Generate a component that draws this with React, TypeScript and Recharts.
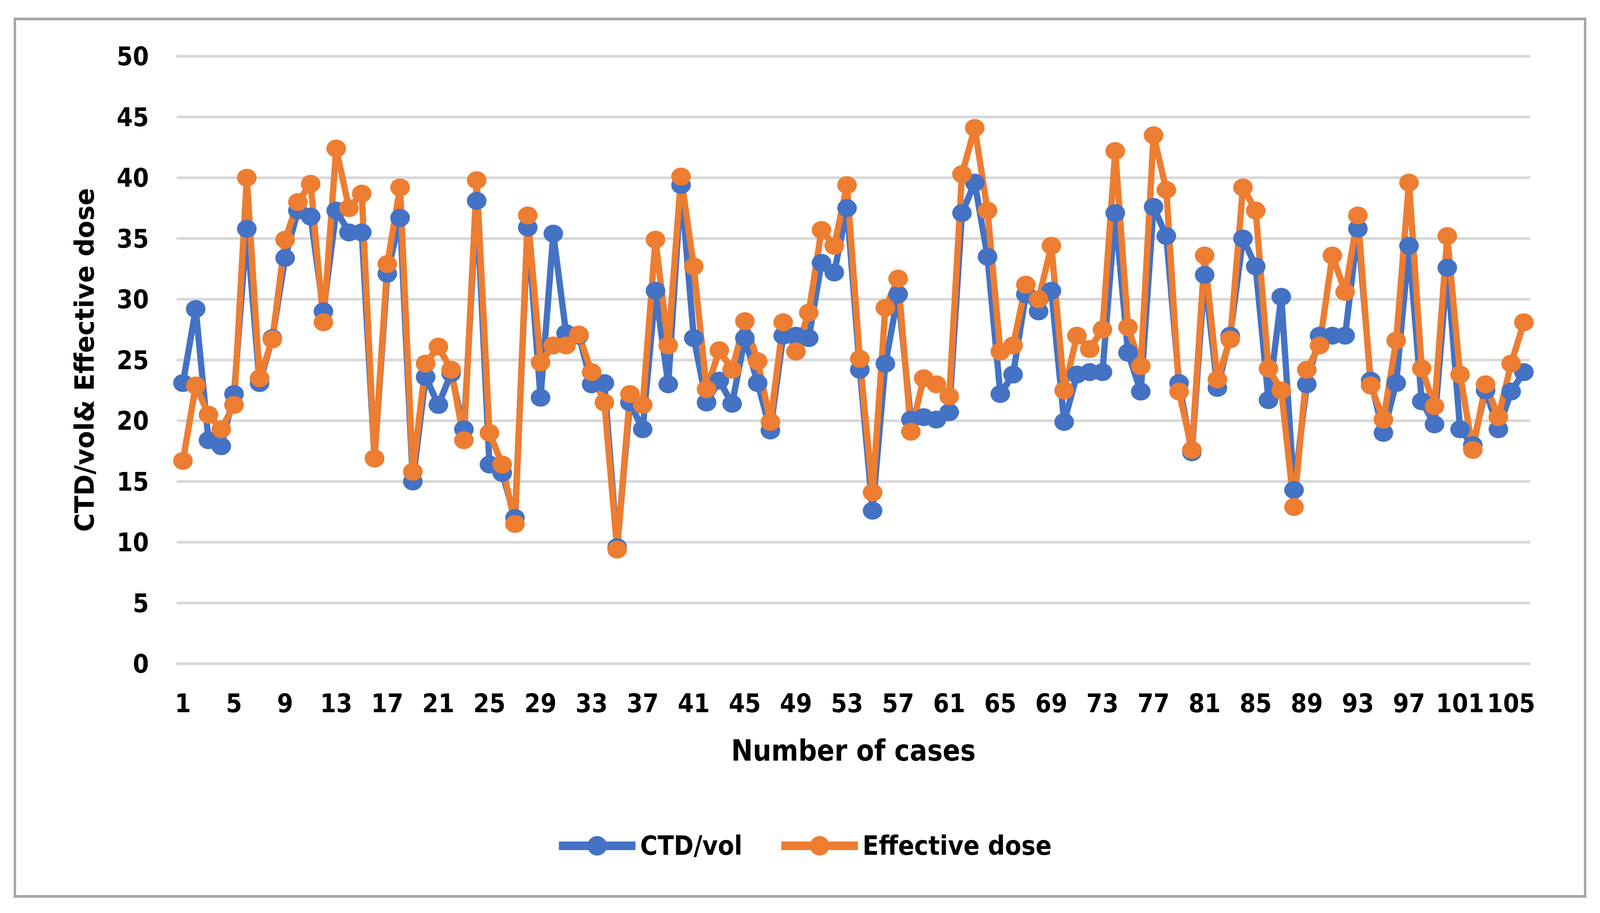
import React from 'react';
import { LineChart, Line, XAxis, YAxis, CartesianGrid, Legend } from 'recharts';

const cases: number[] = [
  1, 2, 3, 4, 5, 6, 7, 8, 9, 10, 11, 12, 13, 14, 15, 16, 17, 18, 19, 20,
  21, 22, 23, 24, 25, 26, 27, 28, 29, 30, 31, 32, 33, 34, 35, 36, 37, 38, 39, 40,
  41, 42, 43, 44, 45, 46, 47, 48, 49, 50, 51, 52, 53, 54, 55, 56, 57, 58, 59, 60,
  61, 62, 63, 64, 65, 66, 67, 68, 69, 70, 71, 72, 73, 74, 75, 76, 77, 78, 79, 80,
  81, 82, 83, 84, 85, 86, 87, 88, 89, 90, 91, 92, 93, 94, 95, 96, 97, 98, 99, 100,
  101, 102, 103, 104, 105, 106,
];

const ctdVol: number[] = [
  23.1, 29.2, 18.4, 17.9, 22.2, 35.8, 23.1, 26.8, 33.4, 37.3,
  36.8, 29.0, 37.3, 35.5, 35.5, 16.9, 32.1, 36.7, 15.0, 23.6,
  21.3, 23.9, 19.3, 38.1, 16.4, 15.7, 12.0, 35.9, 21.9, 35.4,
  27.2, 27.0, 23.0, 23.1, 9.6, 21.5, 19.3, 30.7, 23.0, 39.4,
  26.8, 21.5, 23.3, 21.4, 26.8, 23.1, 19.2, 27.0, 27.0, 26.8,
  33.0, 32.2, 37.5, 24.2, 12.6, 24.7, 30.4, 20.1, 20.3, 20.1,
  20.7, 37.1, 39.6, 33.5, 22.2, 23.8, 30.4, 29.0, 30.7, 19.9,
  23.8, 24.0, 24.0, 37.1, 25.6, 22.4, 37.6, 35.2, 23.1, 17.4,
  32.0, 22.7, 27.0, 35.0, 32.7, 21.7, 30.2, 14.3, 23.0, 27.0,
  27.0, 27.0, 35.8, 23.3, 19.0, 23.1, 34.4, 21.6, 19.7, 32.6,
  19.3, 18.0, 22.5, 19.3, 22.4, 24.0,
];

const effectiveDose: number[] = [
  16.7, 22.9, 20.5, 19.3, 21.3, 40.0, 23.5, 26.7, 34.9, 38.0,
  39.5, 28.1, 42.4, 37.5, 38.7, 16.9, 32.9, 39.2, 15.8, 24.7,
  26.1, 24.2, 18.4, 39.8, 19.0, 16.4, 11.5, 36.9, 24.8, 26.2,
  26.2, 27.1, 24.0, 21.5, 9.4, 22.2, 21.3, 34.9, 26.2, 40.1,
  32.7, 22.6, 25.8, 24.2, 28.2, 24.9, 19.9, 28.1, 25.7, 28.9,
  35.7, 34.4, 39.4, 25.1, 14.1, 29.3, 31.7, 19.1, 23.5, 23.0,
  22.0, 40.3, 44.1, 37.3, 25.7, 26.2, 31.2, 30.0, 34.4, 22.5,
  27.0, 25.9, 27.5, 42.2, 27.7, 24.5, 43.5, 39.0, 22.4, 17.6,
  33.6, 23.4, 26.7, 39.2, 37.3, 24.3, 22.5, 12.9, 24.2, 26.2,
  33.6, 30.6, 36.9, 22.9, 20.1, 26.6, 39.6, 24.3, 21.2, 35.2,
  23.8, 17.6, 23.0, 20.3, 24.7, 28.1,
];

const yTicks: number[] = [0, 5, 10, 15, 20, 25, 30, 35, 40, 45, 50];

const seriesNames = { ctd: 'CTD/vol', eff: 'Effective dose' };
const yTitle = 'CTD/vol& Effective dose';
const xTitle = 'Number of cases';

const BLUE = '#4472C4';
const ORANGE = '#ED7D31';
const FONT = '"DejaVu Sans", Verdana, sans-serif';

const W = 4567;
const H = 2337;

const data = cases.map((c, i) => ({
  case: c,
  ctd: ctdVol[i],
  eff: effectiveDose[i],
}));

const makeDot = (color: string) => (props: any) => {
  const { cx, cy, index } = props;
  if (cx == null || cy == null) return <g key={index} />;
  return <ellipse key={index} cx={cx} cy={cy} rx={28} ry={23} fill={color} />;
};

const renderYTitle = (props: any) => {
  const vb = props.viewBox || {};
  const cx = 268;
  const cy = (vb.y ?? 144) + (vb.height ?? 1555) / 2;
  return (
    <text
      x={cx}
      y={cy}
      transform={`rotate(-90, ${cx}, ${cy})`}
      textAnchor="middle"
      fontFamily={FONT}
      fontWeight={700}
      fontSize={76}
      fill="#000"
      textLength={880}
      lengthAdjust="spacingAndGlyphs"
    >
      {yTitle}
    </text>
  );
};

const renderXTitle = (props: any) => {
  const vb = props.viewBox || {};
  const x = (vb.x ?? 504) + (vb.width ?? 3864) / 2;
  const y = (vb.y ?? 1699) + 248;
  return (
    <text
      x={x}
      y={y}
      textAnchor="middle"
      fontFamily={FONT}
      fontWeight={700}
      fontSize={74}
      fill="#000"
    >
      {xTitle}
    </text>
  );
};

const renderLegend = (props: any) => {
  const { payload } = props;
  return (
    <div
      style={{
        display: 'flex',
        justifyContent: 'center',
        alignItems: 'center',
        height: 100,
        paddingLeft: 30,
        boxSizing: 'border-box',
      }}
    >
      {(payload || []).map((entry: any, i: number) => (
        <div
          key={entry.value}
          style={{ display: 'flex', alignItems: 'center', marginLeft: i ? 111 : 0 }}
        >
          <svg width={219} height={60} style={{ display: 'block' }}>
            <line x1={0} y1={30} x2={219} y2={30} stroke={entry.color} strokeWidth={22} />
            <ellipse cx={109.5} cy={30} rx={28} ry={25} fill={entry.color} />
          </svg>
          <span
            style={{
              marginLeft: 13,
              fontFamily: FONT,
              fontWeight: 700,
              fontSize: 68,
              color: '#000',
              lineHeight: '100px',
              whiteSpace: 'nowrap',
            }}
          >
            {entry.value}
          </span>
        </div>
      ))}
    </div>
  );
};

export default function App() {
  const vw = typeof window !== 'undefined' && window.innerWidth ? window.innerWidth : W;
  const vh = typeof window !== 'undefined' && window.innerHeight ? window.innerHeight : H;
  const sx = vw / W;
  const sy = vh / H;
  return (
    <div
      style={{
        position: 'fixed',
        left: 0,
        top: 0,
        width: W,
        height: H,
        background: '#fff',
        overflow: 'hidden',
        transform: `scale(${sx}, ${sy})`,
        transformOrigin: '0 0',
      }}
    >
      <div
        style={{
          position: 'absolute',
          left: 39,
          top: 45,
          width: 4489,
          height: 2253,
          border: '7px solid #a6a6a6',
          boxSizing: 'border-box',
        }}
      />
      <div style={{ position: 'absolute', left: 0, top: 0 }}>
        <LineChart
          width={W}
          height={H}
          data={data}
          margin={{ top: 144, right: 199, left: 0, bottom: 122 }}
        >
          <CartesianGrid horizontal vertical={false} stroke="#d9d9d9" strokeWidth={7} />
          <XAxis
            dataKey="case"
            type="category"
            interval={3}
            padding={{ left: 18.2, right: 18.2 }}
            axisLine={false}
            tickLine={false}
            tickSize={0}
            tickMargin={77}
            height={416}
            tick={{ fontFamily: FONT, fontWeight: 700, fontSize: 66, fill: '#000' }}
            label={{ content: renderXTitle }}
          />
          <YAxis
            domain={[0, 50]}
            ticks={yTicks}
            interval={0}
            axisLine={false}
            tickLine={false}
            tickSize={0}
            tickMargin={79}
            width={504}
            tick={{ fontFamily: FONT, fontWeight: 700, fontSize: 66, fill: '#000' }}
            label={{ content: renderYTitle }}
          />
          <Legend
            verticalAlign="bottom"
            align="center"
            content={renderLegend}
            wrapperStyle={{ left: 0, width: W }}
          />
          <Line
            type="linear"
            dataKey="ctd"
            name={seriesNames.ctd}
            stroke={BLUE}
            strokeWidth={18}
            strokeLinejoin="round"
            dot={makeDot(BLUE)}
            activeDot={false}
            isAnimationActive={false}
          />
          <Line
            type="linear"
            dataKey="eff"
            name={seriesNames.eff}
            stroke={ORANGE}
            strokeWidth={18}
            strokeLinejoin="round"
            dot={makeDot(ORANGE)}
            activeDot={false}
            isAnimationActive={false}
          />
        </LineChart>
      </div>
    </div>
  );
}
